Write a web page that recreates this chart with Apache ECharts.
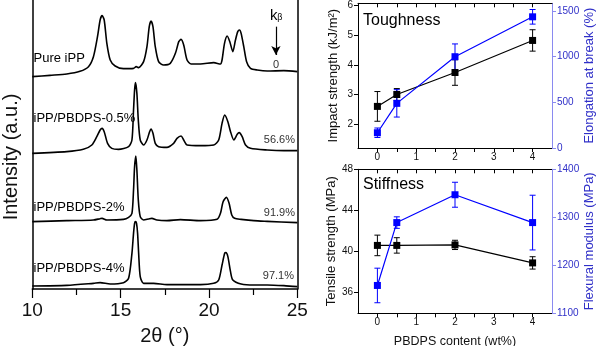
<!DOCTYPE html>
<html><head><meta charset="utf-8">
<script src="https://cdn.jsdelivr.net/npm/echarts@6/dist/echarts.min.js"></script>
<style>html,body{margin:0;padding:0;background:#fff}#c{width:600px;height:346px}</style>
</head><body><div id="c"></div>
<script>
const FONT = 'Liberation Sans, Arial, sans-serif';

// ---- XRD patterns: [2theta, intensity (a.u., stacked)] ----
const xrdPure = [[10.00,632],[11.00,636],[11.95,640],[12.70,648],[13.18,662],[13.46,692],[13.69,752],[13.84,802],[13.95,815],[14.07,802],[14.22,732],[14.41,682],[14.69,664],[15.16,656],[15.73,657],[15.88,662],[16.02,659],[16.30,677],[16.49,722],[16.62,782],[16.72,799],[16.83,782],[16.96,722],[17.15,677],[17.43,667],[17.81,672],[18.10,702],[18.29,737],[18.42,744],[18.57,727],[18.76,682],[18.99,670],[19.52,670],[20.27,674],[20.65,670],[20.74,682],[20.88,732],[21.03,754],[21.18,737],[21.35,707],[21.50,742],[21.63,767],[21.73,772],[21.82,762],[21.97,722],[22.13,677],[22.35,657],[22.73,652],[23.30,649],[24.24,650],[25.00,647]];
const xrd05 = [[10.00,402],[11.95,407],[12.89,414],[13.37,427],[13.65,452],[13.84,472],[13.95,477],[14.07,467],[14.26,432],[14.50,417],[14.88,414],[15.45,422],[15.64,442],[15.73,532],[15.79,592],[15.84,614],[15.92,582],[16.00,502],[16.11,442],[16.30,427],[16.49,442],[16.64,467],[16.72,475],[16.83,462],[16.96,432],[17.15,422],[17.62,420],[18.00,432],[18.19,447],[18.42,454],[18.57,442],[18.76,427],[19.52,425],[20.27,427],[20.55,442],[20.74,492],[20.89,517],[21.07,497],[21.22,467],[21.41,442],[21.60,459],[21.71,464],[21.88,452],[22.07,427],[22.35,417],[23.30,412],[24.24,410],[25.00,410]];
const xrd2 = [[10.00,197],[11.95,200],[13.46,202],[13.84,206],[13.95,207],[14.22,202],[15.16,204],[15.45,210],[15.64,222],[15.73,292],[15.79,362],[15.86,394],[15.92,352],[16.00,262],[16.11,212],[16.30,202],[16.58,205],[16.77,207],[17.05,202],[17.62,200],[18.38,203],[19.52,200],[20.46,204],[20.65,222],[20.80,257],[20.99,270],[21.14,252],[21.29,217],[21.45,207],[21.82,204],[22.54,200],[23.30,198],[25.00,194]];
const xrd4 = [[10.00,4],[11.95,6],[13.46,12],[13.84,14],[14.41,10],[15.16,14],[15.45,27],[15.64,102],[15.73,162],[15.79,192],[15.84,197],[15.90,192],[15.96,162],[16.02,102],[16.11,32],[16.30,12],[16.87,12],[17.62,8],[19.52,8],[20.27,12],[20.55,22],[20.74,67],[20.89,102],[20.96,104],[21.07,92],[21.22,47],[21.35,22],[21.82,10],[22.54,7],[23.30,7],[24.24,5],[25.00,2]];

// ---- Mechanical properties ----
const contentX = [0, 0.5, 2, 4];
const impact = [2.6, 3.0, 3.74, 4.82];
const impactErr = [0.5, 0.2, 0.43, 0.36];
const elong = [167, 489, 1000, 1437];
const elongErr = [52, 150, 140, 80];
const tensile = [40.6, 40.6, 40.65, 38.9];
const tensileErr = [1.0, 0.75, 0.45, 0.6];
const flex = [1158, 1289, 1347, 1289];
const flexErr = [36, 12, 26, 57];

// ---- tick labels ----
const xrdTicks = [10, 15, 20, 25];
const contentTicks = [0, 1, 2, 3, 4];
const contentHalfTicks = [0, 0.5, 1, 1.5, 2, 2.5, 3, 3.5, 4];
const impactTicks = [2, 3, 4, 5, 6];
const elongTicks = [0, 500, 1000, 1500];
const tensileTicks = [36, 40, 44, 48];
const flexTicks = [1100, 1200, 1300, 1400];

const BLUE = '#0000ff';
const AXBLUE = '#8a8af0';
const LBLUE = '#3030c8';
const plain = v => String(v);

function pairs(xs, ys) { return xs.map((x, i) => [x, ys[i]]); }
function errData(xs, ys, es) { return xs.map((x, i) => [x, ys[i] - es[i], ys[i] + es[i]]); }
function errRender(color) {
  return function (params, api) {
    const x = api.value(0), lo = api.value(1), hi = api.value(2);
    const p1 = api.coord([x, hi]), p2 = api.coord([x, lo]);
    const w = 3;
    const st = { stroke: color, lineWidth: 1 };
    return { type: 'group', children: [
      { type: 'line', shape: { x1: p1[0], y1: p1[1], x2: p2[0], y2: p2[1] }, style: st },
      { type: 'line', shape: { x1: p1[0] - w, y1: p1[1], x2: p1[0] + w, y2: p1[1] }, style: st },
      { type: 'line', shape: { x1: p2[0] - w, y1: p2[1], x2: p2[0] + w, y2: p2[1] }, style: st }
    ]};
  };
}
function contentAxis(grid, pos, showLabels, name) {
  return {
    type: 'value', gridIndex: grid, position: pos, min: -0.5, max: 4.5,
    axisLine: { show: true, onZero: false, lineStyle: { color: '#000', width: 1 } },
    axisTick: { show: true, inside: pos === 'top', length: 4, customValues: contentHalfTicks, lineStyle: { color: '#000' } },
    axisLabel: { show: showLabels, customValues: contentTicks, formatter: plain, fontSize: 10, color: '#111', margin: 4, fontFamily: FONT },
    splitLine: { show: false },
    name: name || '', nameLocation: 'middle', nameGap: 22,
    nameTextStyle: { fontSize: 12.5, color: '#111', fontFamily: FONT }
  };
}
function sideAxis(grid, pos, min, max, ticks, lineColor, labelColor, name, nameGap) {
  return {
    type: 'value', gridIndex: grid, position: pos, min: min, max: max,
    axisLine: { show: true, onZero: false, lineStyle: { color: lineColor, width: 1 } },
    axisTick: { show: true, inside: false, length: 4, customValues: ticks, lineStyle: { color: lineColor } },
    axisLabel: { show: true, customValues: ticks, formatter: plain, fontSize: 10, color: labelColor, margin: 5, fontFamily: FONT },
    splitLine: { show: false },
    name: name, nameLocation: 'middle', nameRotate: 90, nameGap: nameGap,
    nameTextStyle: { fontSize: 13, color: labelColor, fontFamily: FONT }
  };
}

const xrdLine = (data, extra) => Object.assign({
  type: 'line', xAxisIndex: 0, yAxisIndex: 0, data: data, showSymbol: false, smooth: 0.25,
  lineStyle: { color: '#000', width: 1.6 }, itemStyle: { color: '#000' }, silent: true
}, extra || {});

const option = {
  animation: false,
  backgroundColor: '#fff',
  textStyle: { fontFamily: FONT },
  grid: [
    { left: 32.3, right: 302.7, top: 0, height: 289, outerBoundsMode: 'none', containLabel: false },
    { left: 358, right: 48, top: 3.3, height: 144.7, outerBoundsMode: 'none', containLabel: false },
    { left: 358, right: 48, top: 169.3, height: 144, outerBoundsMode: 'none', containLabel: false }
  ],
  xAxis: [
    {
      type: 'value', gridIndex: 0, min: 10, max: 25, interval: 5,
      axisLine: { show: true, onZero: false, lineStyle: { color: '#000', width: 1.5 } },
      axisTick: { show: true, inside: false, length: 9, customValues: xrdTicks, lineStyle: { color: '#000', width: 1.2 } },
      minorTick: { show: true, splitNumber: 2, length: 6, lineStyle: { color: '#000', width: 1.2 } },
      axisLabel: { show: true, customValues: xrdTicks, formatter: plain, fontSize: 19, color: '#111', margin: 12, fontFamily: FONT },
      splitLine: { show: false }, minorSplitLine: { show: false },
      name: '2θ (°)', nameLocation: 'middle', nameGap: 37,
      nameTextStyle: { fontSize: 20, color: '#111', fontFamily: FONT }
    },
    contentAxis(1, 'bottom', true),
    contentAxis(1, 'top', false),
    contentAxis(2, 'bottom', true, 'PBDPS content (wt%)'),
    contentAxis(2, 'top', false)
  ],
  yAxis: [
    {
      type: 'value', gridIndex: 0, position: 'left', min: -5, max: 862,
      axisLine: { show: true, onZero: false, lineStyle: { color: '#000', width: 1.5 } },
      axisTick: { show: false }, axisLabel: { show: false }, splitLine: { show: false }
    },
    {
      type: 'value', gridIndex: 0, position: 'right', min: -5, max: 862,
      axisLine: { show: true, onZero: false, lineStyle: { color: '#000', width: 1.5 } },
      axisTick: { show: false }, axisLabel: { show: false }, splitLine: { show: false }
    },
    sideAxis(1, 'left', 1.2, 6.07, impactTicks, '#000', '#111', 'Impact strength (kJ/m²)', 18),
    sideAxis(1, 'right', 0, 1585, elongTicks, AXBLUE, LBLUE, 'Elongation at break (%)', 28),
    sideAxis(2, 'left', 34, 48, tensileTicks, '#000', '#111', 'Tensile strength (MPa)', 18),
    sideAxis(2, 'right', 1100, 1400, flexTicks, AXBLUE, LBLUE, 'Flexural modulus (MPa)', 28)
  ],
  series: [
    xrdLine(xrdPure, {
      markLine: {
        silent: true, symbol: ['none', 'arrow'], symbolSize: [7, 9], label: { show: false },
        lineStyle: { color: '#000', width: 1.2, type: 'solid' },
        data: [[{ coord: [23.79, 782] }, { coord: [23.79, 697] }]]
      }
    }),
    xrdLine(xrd05),
    xrdLine(xrd2),
    xrdLine(xrd4),
    { type: 'custom', xAxisIndex: 1, yAxisIndex: 2, renderItem: errRender('#000'), data: errData(contentX, impact, impactErr), encode: { x: 0, y: [1, 2] }, silent: true },
    { type: 'line', xAxisIndex: 1, yAxisIndex: 2, data: pairs(contentX, impact), symbol: 'rect', symbolSize: 7,
      lineStyle: { color: '#000', width: 1.2 }, itemStyle: { color: '#000' } },
    { type: 'custom', xAxisIndex: 1, yAxisIndex: 3, renderItem: errRender(BLUE), data: errData(contentX, elong, elongErr), encode: { x: 0, y: [1, 2] }, silent: true },
    { type: 'line', xAxisIndex: 1, yAxisIndex: 3, data: pairs(contentX, elong), symbol: 'rect', symbolSize: 7,
      lineStyle: { color: BLUE, width: 1.2 }, itemStyle: { color: BLUE } },
    { type: 'custom', xAxisIndex: 3, yAxisIndex: 4, renderItem: errRender('#000'), data: errData(contentX, tensile, tensileErr), encode: { x: 0, y: [1, 2] }, silent: true },
    { type: 'line', xAxisIndex: 3, yAxisIndex: 4, data: pairs(contentX, tensile), symbol: 'rect', symbolSize: 7,
      lineStyle: { color: '#000', width: 1.2 }, itemStyle: { color: '#000' } },
    { type: 'custom', xAxisIndex: 3, yAxisIndex: 5, renderItem: errRender(BLUE), data: errData(contentX, flex, flexErr), encode: { x: 0, y: [1, 2] }, silent: true },
    { type: 'line', xAxisIndex: 3, yAxisIndex: 5, data: pairs(contentX, flex), symbol: 'rect', symbolSize: 7,
      lineStyle: { color: BLUE, width: 1.2 }, itemStyle: { color: BLUE } }
  ],
  graphic: { elements: [
    { type: 'text', x: 11, y: 157, rotation: Math.PI / 2, style: { text: 'Intensity (a.u.)', font: '20px ' + FONT, fill: '#111', align: 'center', verticalAlign: 'middle' } },
    { type: 'text', x: 33.5, y: 58.3, style: { text: 'Pure iPP', font: '13px ' + FONT, fill: '#000', align: 'left', verticalAlign: 'middle' } },
    { type: 'text', x: 33.5, y: 118.7, style: { text: 'iPP/PBDPS-0.5%', font: '13px ' + FONT, fill: '#000', align: 'left', verticalAlign: 'middle' } },
    { type: 'text', x: 33.5, y: 207.5, style: { text: 'iPP/PBDPS-2%', font: '13px ' + FONT, fill: '#000', align: 'left', verticalAlign: 'middle' } },
    { type: 'text', x: 33.5, y: 268.3, style: { text: 'iPP/PBDPS-4%', font: '13px ' + FONT, fill: '#000', align: 'left', verticalAlign: 'middle' } },
    { type: 'text', x: 276, y: 65, style: { text: '0', font: '11px ' + FONT, fill: '#333', align: 'center', verticalAlign: 'middle' } },
    { type: 'text', x: 295, y: 140, style: { text: '56.6%', font: '11px ' + FONT, fill: '#333', align: 'right', verticalAlign: 'middle' } },
    { type: 'text', x: 295, y: 212.7, style: { text: '91.9%', font: '11px ' + FONT, fill: '#333', align: 'right', verticalAlign: 'middle' } },
    { type: 'text', x: 294, y: 276, style: { text: '97.1%', font: '11px ' + FONT, fill: '#333', align: 'right', verticalAlign: 'middle' } },
    { type: 'text', x: 273.8, y: 15.5, style: { text: 'k', font: '15px ' + FONT, fill: '#000', align: 'center', verticalAlign: 'middle' } },
    { type: 'text', x: 279.8, y: 17.8, style: { text: 'β', font: '9px ' + FONT, fill: '#000', align: 'center', verticalAlign: 'middle' } },
    { type: 'text', x: 363, y: 20.7, style: { text: 'Toughness', font: '16px ' + FONT, fill: '#000', align: 'left', verticalAlign: 'middle' } },
    { type: 'text', x: 363, y: 185, style: { text: 'Stiffness', font: '16px ' + FONT, fill: '#000', align: 'left', verticalAlign: 'middle' } }
  ] }
};

const chart = echarts.init(document.getElementById('c'), null, { renderer: 'canvas' });
chart.setOption(option);
</script>
</body></html>
